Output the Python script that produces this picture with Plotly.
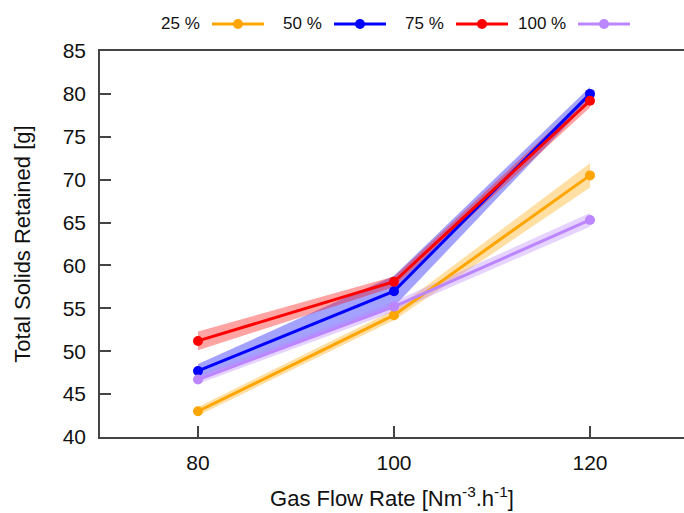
import plotly.graph_objects as go

# Gas flow rate (Nm-3.h-1) and retained solids for each fill level
flow_rate = [80, 100, 120]
series_names = ["25 %", "50 %", "75 %", "100 %"]
solids_25 = [43.0, 54.2, 70.5]
solids_50 = [47.7, 57.0, 80.0]
solids_75 = [51.2, 58.1, 79.2]
solids_100 = [46.7, 55.2, 65.3]
# half-width of the shaded uncertainty band at each flow rate
err_25 = [0.5, 0.6, 1.4]
err_50 = [0.8, 1.8, 0.8]
err_75 = [1.1, 0.6, 0.8]
err_100 = [0.5, 0.6, 0.8]
y_ticks = [40, 45, 50, 55, 60, 65, 70, 75, 80, 85]
x_ticks = [80, 100, 120]

colors = ["#FFA500", "#0000FF", "#FF0000", "#BB86FF"]
band_colors = ["rgba(255,165,0,0.36)", "rgba(0,0,255,0.36)",
               "rgba(255,0,0,0.36)", "rgba(187,134,255,0.36)"]
values = [solids_25, solids_50, solids_75, solids_100]
errors = [err_25, err_50, err_75, err_100]

FONT = "Liberation Sans, Arial, sans-serif"
fig = go.Figure()

# shaded bands first, so every line sits above them
for vals, errs, bc in zip(values, errors, band_colors):
    upper = [v + e for v, e in zip(vals, errs)]
    lower = [v - e for v, e in zip(vals, errs)]
    fig.add_trace(go.Scatter(
        x=flow_rate + flow_rate[::-1], y=upper + lower[::-1],
        fill="toself", fillcolor=bc, line=dict(width=0),
        mode="lines", hoverinfo="skip", showlegend=False))

for name, vals, c in zip(series_names, values, colors):
    fig.add_trace(go.Scatter(
        x=flow_rate, y=vals, name=name, mode="lines+markers",
        line=dict(color=c, width=3), marker=dict(color=c, size=10),
        showlegend=False))

# legend row: label on the left, line-and-dot sample on the right
L, R, T, B = 100, 684, 51, 437
W, H = R - L, B - T
def px(x):
    return (x - L) / W
def py(y):
    return (B - y) / H

legend_y = 24
label_right = [202, 324, 446, 568]
sample_mid = [238, 360, 482, 604]
shapes = []
annotations = []
for name, c, lr, sm in zip(series_names, colors, label_right, sample_mid):
    annotations.append(dict(
        text=name, x=px(lr), y=py(legend_y), xref="paper", yref="paper",
        xanchor="right", yanchor="middle", showarrow=False,
        font=dict(family=FONT, size=17, color="#111111")))
    shapes.append(dict(
        type="line", xref="paper", yref="paper",
        xsizemode="pixel", ysizemode="pixel",
        xanchor=px(sm), yanchor=py(legend_y),
        x0=-26, x1=26, y0=0, y1=0, line=dict(color=c, width=3)))
    shapes.append(dict(
        type="circle", xref="paper", yref="paper",
        xsizemode="pixel", ysizemode="pixel",
        xanchor=px(sm), yanchor=py(legend_y),
        x0=-5, x1=5, y0=-5, y1=5, line=dict(color=c, width=0),
        fillcolor=c))

axis_line = "#444444"
fig.update_layout(
    width=684, height=513,
    margin=dict(l=L, r=0, t=T, b=513 - B),
    paper_bgcolor="white", plot_bgcolor="white",
    font=dict(family=FONT, size=21, color="#111111"),
    shapes=shapes, annotations=annotations,
    xaxis=dict(
        range=[70, 70 + 60 * W / 588], tickvals=x_ticks,
        ticks="inside", ticklen=11, tickwidth=1.5, tickcolor=axis_line,
        showline=True, linecolor=axis_line, linewidth=1.5, mirror=True,
        showgrid=False, zeroline=False,
        tickfont=dict(size=21), ticklabelstandoff=6,
        title=dict(text="Gas Flow Rate [Nm<sup>-3</sup>.h<sup>-1</sup>]",
                   font=dict(size=22), standoff=18)),
    yaxis=dict(
        range=[40, 85], tickvals=y_ticks,
        ticks="inside", ticklen=11, tickwidth=1.5, tickcolor=axis_line,
        showline=True, linecolor=axis_line, linewidth=1.5, mirror=False,
        showgrid=False, zeroline=False,
        tickfont=dict(size=21), ticklabelstandoff=8,
        title=dict(text="Total Solids Retained [g]",
                   font=dict(size=22), standoff=26)),
)

fig.write_html("out.html")
